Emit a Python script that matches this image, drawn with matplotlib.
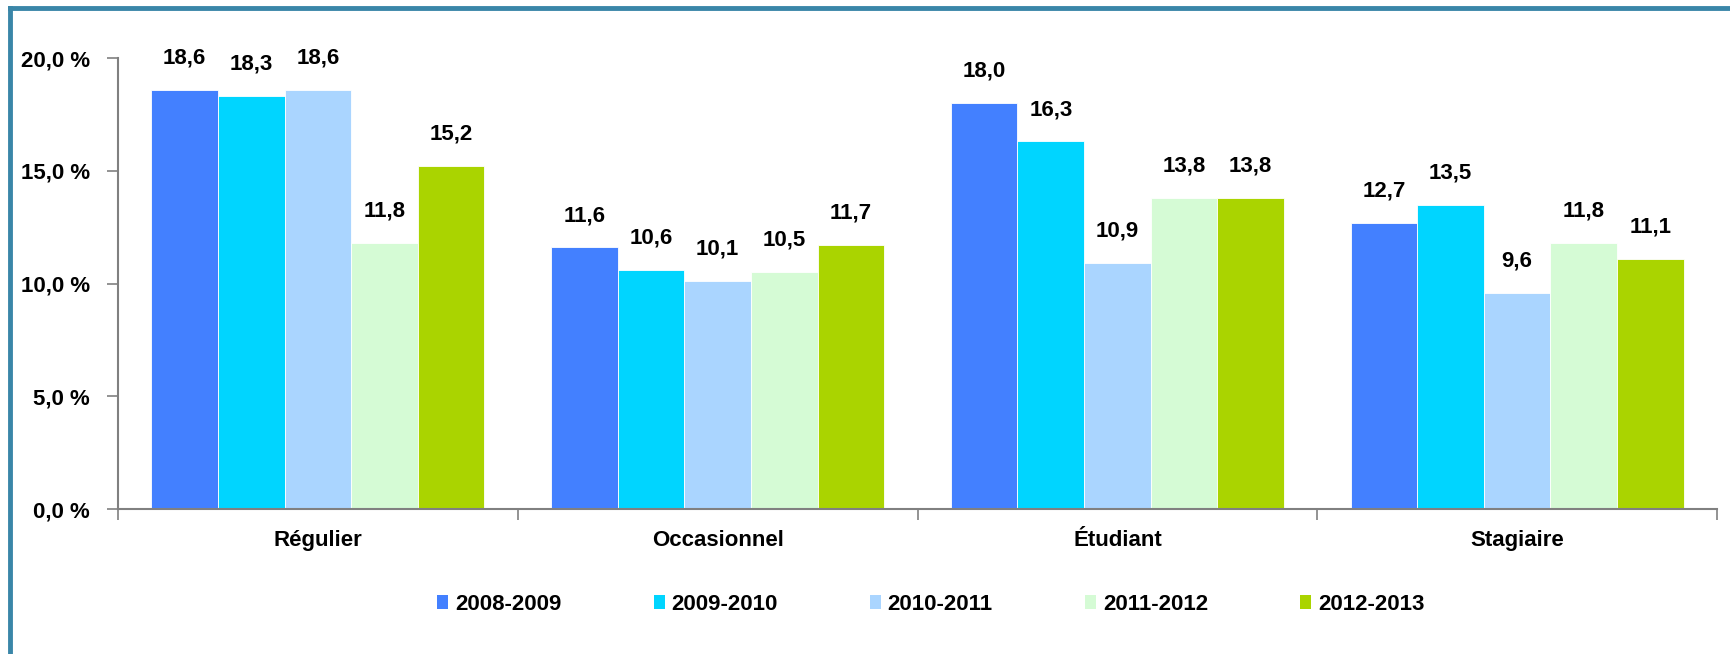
import matplotlib
matplotlib.use("Agg")
import matplotlib.pyplot as plt
import numpy as np
from matplotlib.lines import Line2D
from matplotlib.patches import Patch

categories = ["Régulier", "Occasionnel", "Étudiant", "Stagiaire"]
series = ["2008-2009", "2009-2010", "2010-2011", "2011-2012", "2012-2013"]
v_2008 = [18.6, 11.6, 18.0, 12.7]
v_2009 = [18.3, 10.6, 16.3, 13.5]
v_2010 = [18.6, 10.1, 10.9, 9.6]
v_2011 = [11.8, 10.5, 13.8, 11.8]
v_2012 = [15.2, 11.7, 13.8, 11.1]
values = [v_2008, v_2009, v_2010, v_2011, v_2012]
colors = ["#4380FF", "#00D5FF", "#AAD5FF", "#D5FBD5", "#AAD400"]
yticks = [0, 5, 10, 15, 20]

plt.rcParams['font.family'] = ['Liberation Sans', 'DejaVu Sans']
plt.rcParams['font.weight'] = 'bold'
FS = 16

fig = plt.figure(figsize=(17.3, 6.54), dpi=100)
ax = fig.add_axes([0.0682, 0.2217, 0.9243, 0.6896])

x = np.arange(len(categories))
bw = 1 / 6
for i, (vals, c) in enumerate(zip(values, colors)):
    pos = x - 2 * bw + i * bw
    ax.bar(pos, vals, width=bw, color=c, edgecolor='white', linewidth=0.6, label=series[i], zorder=2)
    for px, v in zip(pos, vals):
        ax.annotate(f"{v:.1f}".replace('.', ','), (px, v), xytext=(0, 19), textcoords='offset points',
                    ha='center', va='baseline', fontsize=FS, fontweight='bold', color='black')

ax.set_xlim(-0.5, len(categories) - 0.5)
ax.set_ylim(0, 20)
ax.set_yticks(yticks)
ax.set_yticklabels([f"{t:.1f} %".replace('.', ',') for t in yticks], fontsize=FS, fontweight='bold')
ax.tick_params(axis='y', length=8, width=1.2, color='#808080', pad=12)

ax.set_xticks(np.arange(len(categories) + 1) - 0.5)
ax.set_xticklabels([])
ax.tick_params(axis='x', which='major', length=8, width=1.2, color='#808080', direction='out')
ax.set_xticks(x, minor=True)
ax.set_xticklabels(categories, minor=True, fontsize=FS, fontweight='bold')
ax.tick_params(axis='x', which='minor', length=0, pad=15)

for s in ['top', 'right']:
    ax.spines[s].set_visible(False)
for s in ['left', 'bottom']:
    ax.spines[s].set_color('#808080')
    ax.spines[s].set_linewidth(1.5)

handles = [Patch(facecolor=c, edgecolor='none') for c in colors]
leg = fig.legend(handles, series, loc='center', bbox_to_anchor=(0.538, 1 - 604 / 654), ncol=5,
                 frameon=False, prop={'weight': 'bold', 'size': FS},
                 handlelength=0.5, handleheight=0.6, handletextpad=0.3, columnspacing=4.15)

# frame lines (left and top)
fig.add_artist(Line2D([10 / 1730, 10 / 1730], [0, 1 - 8 / 654], transform=fig.transFigure,
                      color='#3A86A8', linewidth=3.5))
fig.add_artist(Line2D([10 / 1730, 1], [1 - 8 / 654, 1 - 8 / 654], transform=fig.transFigure,
                      color='#3A86A8', linewidth=3.5))

fig.savefig("out.png", dpi=100)
